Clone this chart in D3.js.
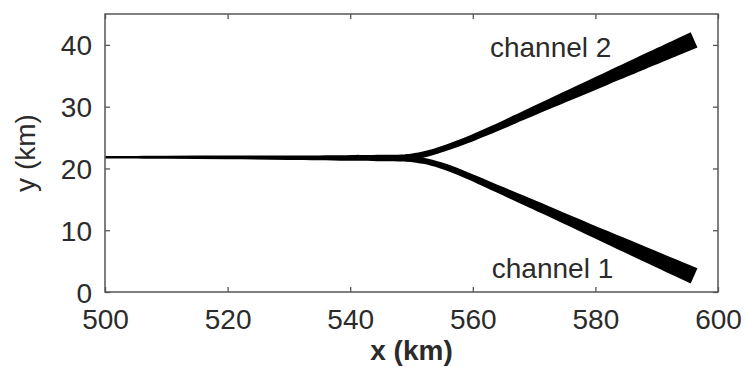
<!DOCTYPE html>
<html>
<head>
<meta charset="utf-8">
<script src="https://cdn.jsdelivr.net/npm/d3@7"></script>
<style>
  html, body { margin: 0; padding: 0; background: #fff; }
  svg { display: block; }
  text { font-family: "Liberation Sans", Arial, sans-serif; fill: #2b2b2b; }
</style>
</head>
<body>
<svg id="chart" width="745" height="367"></svg>
<script>
// ---- data ----
const xTicks = [500, 520, 540, 560, 580, 600];
const yTicks = [0, 10, 20, 30, 40];
const xDomain = [500, 600];
const yDomain = [0, 45];

// main (shared) trunk: centerline x, y (km) and width (km)
const trunkX = [500, 510, 520, 530, 540, 546, 551];
const trunkY = [21.8, 21.8, 21.8, 21.75, 21.7, 21.7, 21.7];
const trunkW = [0.4, 0.5, 0.6, 0.72, 0.9, 1.05, 1.15];

// channel 2 (upper branch)
const ch2X = [549, 552, 554.6, 557.9, 562, 566.1, 571, 580.8, 596.1];
const ch2Y = [21.75, 22.2, 23.0, 24.1, 25.8, 27.6, 29.8, 34.1, 40.8];
const ch2W = [1.0, 1.0, 1.0, 1.05, 1.15, 1.3, 1.5, 1.95, 2.7];

// channel 1 (lower branch)
const ch1X = [549, 552, 554.6, 557.9, 562, 566.1, 571, 580.8, 596.1];
const ch1Y = [21.65, 21.3, 20.6, 19.4, 17.6, 15.8, 13.7, 9.3, 2.6];
const ch1W = [1.0, 1.0, 1.0, 1.05, 1.15, 1.3, 1.5, 1.95, 2.7];

const labels = ["channel 2", "channel 1"];
const xLabel = "x (km)";
const yLabel = "y (km)";

// ---- layout ----
const svg = d3.select("#chart");
const L = 105, R = 718, T = 14, B = 292;
const x = d3.scaleLinear().domain(xDomain).range([L, R]);
const y = d3.scaleLinear().domain(yDomain).range([B, T]);
const axisColor = "#555";

// ---- channels ----
function ribbon(xs, ys, ws) {
  const pts = xs.map((d, i) => [x(d), y(ys[i])]);
  const k = y(0) - y(1);
  const left = [], right = [];
  pts.forEach((p, i) => {
    const a = pts[Math.max(i - 1, 0)], b = pts[Math.min(i + 1, pts.length - 1)];
    let dx = b[0] - a[0], dy = b[1] - a[1];
    const len = Math.hypot(dx, dy); dx /= len; dy /= len;
    const h = ws[i] * k / 2;
    left.push([p[0] - dy * h, p[1] + dx * h]);
    right.push([p[0] + dy * h, p[1] - dx * h]);
  });
  const line = d3.line().curve(d3.curveBasis);
  return line(left) + line(right.reverse()).replace(/^M/, "L") + "Z";
}

const g = svg.append("g");
g.append("path").attr("d", ribbon(trunkX, trunkY, trunkW)).attr("fill", "#000");
g.append("path").attr("d", ribbon(ch2X, ch2Y, ch2W)).attr("fill", "#000");
g.append("path").attr("d", ribbon(ch1X, ch1Y, ch1W)).attr("fill", "#000");

// ---- axes ----
function styleAxis(sel) {
  sel.select(".domain").remove();
  sel.selectAll(".tick line").attr("stroke", axisColor).attr("stroke-width", 1.3);
  sel.selectAll(".tick text").attr("font-size", 28).attr("fill", "#2b2b2b")
     .attr("font-family", '"Liberation Sans", Arial, sans-serif');
}
svg.append("g").attr("transform", `translate(0,${B})`)
  .call(d3.axisBottom(x).tickValues(xTicks).tickSizeInner(-5).tickSizeOuter(0).tickPadding(17))
  .call(styleAxis);
svg.append("g").attr("transform", `translate(0,${T})`)
  .call(d3.axisTop(x).tickValues(xTicks).tickSizeInner(-5).tickSizeOuter(0).tickFormat(""))
  .call(styleAxis);
svg.append("g").attr("transform", `translate(${L},0)`)
  .call(d3.axisLeft(y).tickValues(yTicks).tickSizeInner(-5).tickSizeOuter(0).tickPadding(13))
  .call(styleAxis)
  .selectAll(".tick text").attr("dy", "0.36em");
svg.append("g").attr("transform", `translate(${R},0)`)
  .call(d3.axisRight(y).tickValues(yTicks).tickSizeInner(-5).tickSizeOuter(0).tickFormat(""))
  .call(styleAxis);

svg.append("rect").attr("x", L).attr("y", T).attr("width", R - L).attr("height", B - T)
  .attr("fill", "none").attr("stroke", axisColor).attr("stroke-width", 1.5);

// ---- labels ----
svg.append("text").attr("x", x(562.8)).attr("y", y(38.0)).attr("font-size", 28).text(labels[0]);
svg.append("text").attr("x", x(563.1)).attr("y", y(2.3)).attr("font-size", 28).text(labels[1]);

svg.append("text").attr("x", (L + R) / 2).attr("y", 360).attr("text-anchor", "middle")
  .attr("font-size", 28).attr("font-weight", "bold").text(xLabel);
svg.append("text").attr("transform", `translate(35,${(T + B) / 2}) rotate(-90)`)
  .attr("text-anchor", "middle").attr("font-size", 28).text(yLabel);
</script>
</body>
</html>
